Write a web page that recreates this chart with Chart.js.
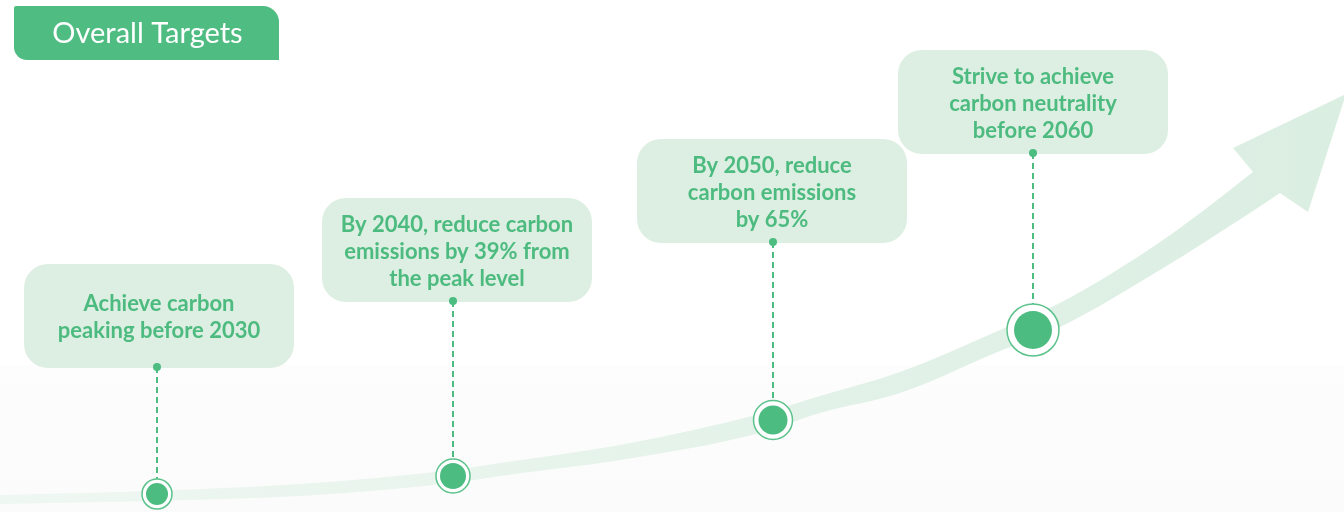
<!DOCTYPE html>
<html>
<head>
<meta charset="utf-8">
<script src="https://cdn.jsdelivr.net/npm/chart.js@4.4.1/dist/chart.umd.min.js"></script>
<style>
html,body{margin:0;padding:0;background:#fff;}
canvas{display:block;}
</style>
</head>
<body>
<canvas id="c" width="1344" height="512"></canvas>
<script>
// ---- data ----
const title = "Overall Targets";
const milestoneLabels = [
  ["Achieve carbon", "peaking before 2030"],
  ["By 2040, reduce carbon", "emissions by 39% from", "the peak level"],
  ["By 2050, reduce", "carbon emissions", "by 65%"],
  ["Strive to achieve", "carbon neutrality", "before 2060"]
];
const milestoneX = [157, 453, 773, 1033];
const milestoneY = [494, 476, 420, 330];
const labelAnchorY = [367, 301, 242, 153];
const curveX     = [0,   150, 300, 453, 500, 620, 760, 820, 900, 1000, 1060, 1160, 1253, 1280];
const curveUpper = [495, 491, 484, 470, 463, 445, 414, 396, 372, 330,  303,  242,  172,  150];
const curveLower = [504, 501, 496, 483, 476, 460, 433, 413, 393, 351,  327,  270,  211,  193];
const arrowHeadX = [1233, 1346, 1308, 1280, 1253];
const arrowHeadY = [148,  94,   212,  193,  172];

// ---- layout / style ----
const GREEN = '#4dbc80';
const TEXT_GREEN = '#4dbb7f';
const BOX_FILL = '#dcefe2';
const boxW = 270, boxH = 104, boxR = 24;
const boxCx = [159, 457, 772, 1033];
const ringR = [15, 17, 19.5, 26];
const dotR = [11, 13, 14.5, 19];

function bandGradient(chart){
  const a = chart.chartArea;
  const g = chart.ctx.createLinearGradient(a.left, 0, a.right, 0);
  g.addColorStop(0, '#eff7f2');
  g.addColorStop(0.5, '#e5f3ea');
  g.addColorStop(1, '#dbeee2');
  return g;
}

function roundRect(ctx, x, y, w, h, r){
  ctx.beginPath();
  ctx.moveTo(x + r, y);
  ctx.arcTo(x + w, y, x + w, y + h, r);
  ctx.arcTo(x + w, y + h, x, y + h, r);
  ctx.arcTo(x, y + h, x, y, r);
  ctx.arcTo(x, y, x + w, y, r);
  ctx.closePath();
}

const decor = {
  id: 'decor',
  beforeDraw(chart){
    const {ctx, scales:{x, y}} = chart;
    ctx.save();
    ctx.fillStyle = '#ffffff';
    ctx.fillRect(0, 0, chart.width, chart.height);
    const top = y.getPixelForValue(365);
    const g = ctx.createLinearGradient(0, top, 0, chart.height);
    g.addColorStop(0, '#fdfdfd');
    g.addColorStop(1, '#fbfbfb');
    ctx.fillStyle = g;
    ctx.fillRect(0, top, chart.width, chart.height - top);
    ctx.restore();
  },
  beforeDatasetsDraw(chart){
    const {ctx, scales:{x, y}} = chart;
    ctx.save();
    // header tab
    const hx0 = x.getPixelForValue(14), hx1 = x.getPixelForValue(279);
    const hy0 = y.getPixelForValue(6), hy1 = y.getPixelForValue(60);
    ctx.beginPath();
    ctx.moveTo(hx0 + 2, hy0);
    ctx.lineTo(hx1 - 16, hy0);
    ctx.arcTo(hx1, hy0, hx1, hy0 + 16, 16);
    ctx.lineTo(hx1, hy1);
    ctx.lineTo(hx0 + 13, hy1);
    ctx.arcTo(hx0, hy1, hx0, hy1 - 13, 13);
    ctx.lineTo(hx0, hy0 + 2);
    ctx.arcTo(hx0, hy0, hx0 + 2, hy0, 2);
    ctx.closePath();
    ctx.fillStyle = '#4fbd82';
    ctx.fill();
    ctx.fillStyle = '#ffffff';
    ctx.font = '29px Lato, "Noto Sans", sans-serif';
    ctx.textAlign = 'center';
    ctx.textBaseline = 'middle';
    ctx.fillText(title, (hx0 + hx1) / 2 + 1, (hy0 + hy1) / 2 + 1);

    // arrow head
    ctx.beginPath();
    arrowHeadX.forEach((vx, i) => {
      const px = x.getPixelForValue(vx), py = y.getPixelForValue(arrowHeadY[i]);
      if (i === 0) ctx.moveTo(px, py); else ctx.lineTo(px, py);
    });
    ctx.closePath();
    ctx.fillStyle = bandGradient(chart);
    ctx.fill();

    // label boxes
    milestoneLabels.forEach((lines, i) => {
      const cx = x.getPixelForValue(boxCx[i]);
      const bottom = y.getPixelForValue(labelAnchorY[i]) + 1;
      const top = bottom - boxH;
      roundRect(ctx, cx - boxW / 2, top, boxW, boxH, boxR);
      ctx.fillStyle = BOX_FILL;
      ctx.fill();
      ctx.fillStyle = TEXT_GREEN;
      ctx.font = 'bold 22px Lato, "Noto Sans", sans-serif';
      ctx.textAlign = 'center';
      ctx.textBaseline = 'middle';
      const lh = 27;
      const cy = top + boxH / 2 + 1.5;
      lines.forEach((t, k) => {
        ctx.fillText(t, cx, cy + (k - (lines.length - 1) / 2) * lh);
      });
    });
    ctx.restore();
  }
};

const toPts = (xs, ys) => xs.map((v, i) => ({x: v, y: ys[i]}));

const datasets = [
  {
    type: 'line', label: 'band-upper', data: toPts(curveX, curveUpper),
    borderWidth: 0, borderColor: 'transparent', pointRadius: 0,
    cubicInterpolationMode: 'monotone', fill: '+1',
    backgroundColor: (c) => c.chart.chartArea ? bandGradient(c.chart) : '#e5f3ea',
    order: 20
  },
  {
    type: 'line', label: 'band-lower', data: toPts(curveX, curveLower),
    borderWidth: 0, borderColor: 'transparent', pointRadius: 0,
    cubicInterpolationMode: 'monotone', fill: false, order: 21
  }
];
milestoneX.forEach((mx, i) => {
  datasets.push({
    type: 'line', label: 'connector' + i,
    data: [{x: mx, y: labelAnchorY[i]}, {x: mx, y: milestoneY[i] - ringR[i]}],
    borderColor: GREEN, borderWidth: 2, borderDash: [6, 4],
    pointRadius: 0, fill: false, order: 10
  });
});
datasets.push({
  type: 'scatter', label: 'anchor-dots', data: toPts(milestoneX, labelAnchorY),
  pointRadius: 4, backgroundColor: GREEN, borderWidth: 0, order: 5
});
datasets.push({
  type: 'scatter', label: 'rings', data: toPts(milestoneX, milestoneY),
  pointRadius: ringR, backgroundColor: '#ffffff', borderColor: '#5cc28b', borderWidth: 1.5, order: 4
});
datasets.push({
  type: 'scatter', label: 'dots', data: toPts(milestoneX, milestoneY),
  pointRadius: dotR, backgroundColor: GREEN, borderWidth: 0, order: 3
});

new Chart(document.getElementById('c'), {
  type: 'scatter',
  data: { datasets },
  options: {
    responsive: false,
    devicePixelRatio: 1,
    animation: false,
    events: [],
    layout: { padding: 0, autoPadding: false },
    scales: {
      x: { type: 'linear', min: 0, max: 1344, display: false },
      y: { type: 'linear', min: 0, max: 512, reverse: true, display: false }
    },
    plugins: { legend: { display: false }, tooltip: { enabled: false } },
    elements: { line: { tension: 0 } },
    clip: false
  },
  plugins: [decor]
});
</script>
</body>
</html>
